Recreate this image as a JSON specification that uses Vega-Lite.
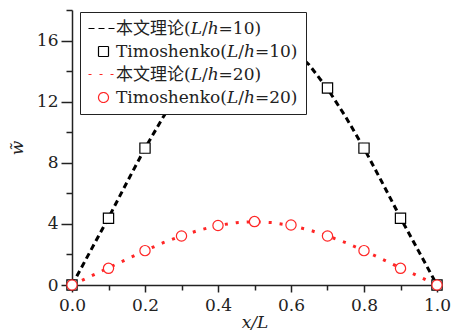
{
  "$schema": "https://vega.github.io/schema/vega-lite/v6.json",
  "width": 365,
  "height": 275,
  "autosize": "none",
  "padding": {"left": 72, "top": 10, "right": 20, "bottom": 49},
  "config": {
    "view": {"stroke": null},
    "font": "DejaVu Serif",
    "axis": {
      "grid": false,
      "labelFlush": false,
      "labelOverlap": false,
      "domainColor": "#222",
      "domainWidth": 1.5,
      "tickColor": "#222",
      "tickWidth": 1.5,
      "labelFont": "DejaVu Serif",
      "labelFontSize": 17,
      "labelColor": "#222",
      "titleFont": "DejaVu Serif",
      "titleFontSize": 17,
      "titleFontWeight": "normal",
      "titleFontStyle": "italic",
      "titleColor": "#222"
    }
  },
  "layer": [
    {
      "data": {
        "values": [
          {"series": "本文理论(𝐿/ℎ=10)", "x": 0, "w": 0},
          {"series": "本文理论(𝐿/ℎ=10)", "x": 0.05, "w": 2.2},
          {"series": "本文理论(𝐿/ℎ=10)", "x": 0.1, "w": 4.4},
          {"series": "本文理论(𝐿/ℎ=10)", "x": 0.15, "w": 6.7},
          {"series": "本文理论(𝐿/ℎ=10)", "x": 0.2, "w": 8.95},
          {"series": "本文理论(𝐿/ℎ=10)", "x": 0.25, "w": 11.0},
          {"series": "本文理论(𝐿/ℎ=10)", "x": 0.3, "w": 12.85},
          {"series": "本文理论(𝐿/ℎ=10)", "x": 0.35, "w": 14.4},
          {"series": "本文理论(𝐿/ℎ=10)", "x": 0.4, "w": 15.55},
          {"series": "本文理论(𝐿/ℎ=10)", "x": 0.45, "w": 16.3},
          {"series": "本文理论(𝐿/ℎ=10)", "x": 0.5, "w": 16.55},
          {"series": "本文理论(𝐿/ℎ=10)", "x": 0.55, "w": 16.3},
          {"series": "本文理论(𝐿/ℎ=10)", "x": 0.6, "w": 15.55},
          {"series": "本文理论(𝐿/ℎ=10)", "x": 0.65, "w": 14.4},
          {"series": "本文理论(𝐿/ℎ=10)", "x": 0.7, "w": 12.85},
          {"series": "本文理论(𝐿/ℎ=10)", "x": 0.75, "w": 11.0},
          {"series": "本文理论(𝐿/ℎ=10)", "x": 0.8, "w": 8.95},
          {"series": "本文理论(𝐿/ℎ=10)", "x": 0.85, "w": 6.7},
          {"series": "本文理论(𝐿/ℎ=10)", "x": 0.9, "w": 4.4},
          {"series": "本文理论(𝐿/ℎ=10)", "x": 0.95, "w": 2.2},
          {"series": "本文理论(𝐿/ℎ=10)", "x": 1.0, "w": 0},
          {"series": "本文理论(𝐿/ℎ=20)", "x": 0, "w": 0},
          {"series": "本文理论(𝐿/ℎ=20)", "x": 0.05, "w": 0.56},
          {"series": "本文理论(𝐿/ℎ=20)", "x": 0.1, "w": 1.12},
          {"series": "本文理论(𝐿/ℎ=20)", "x": 0.15, "w": 1.69},
          {"series": "本文理论(𝐿/ℎ=20)", "x": 0.2, "w": 2.25},
          {"series": "本文理论(𝐿/ℎ=20)", "x": 0.25, "w": 2.77},
          {"series": "本文理论(𝐿/ℎ=20)", "x": 0.3, "w": 3.22},
          {"series": "本文理论(𝐿/ℎ=20)", "x": 0.35, "w": 3.6},
          {"series": "本文理论(𝐿/ℎ=20)", "x": 0.4, "w": 3.9},
          {"series": "本文理论(𝐿/ℎ=20)", "x": 0.45, "w": 4.08},
          {"series": "本文理论(𝐿/ℎ=20)", "x": 0.5, "w": 4.15},
          {"series": "本文理论(𝐿/ℎ=20)", "x": 0.55, "w": 4.08},
          {"series": "本文理论(𝐿/ℎ=20)", "x": 0.6, "w": 3.9},
          {"series": "本文理论(𝐿/ℎ=20)", "x": 0.65, "w": 3.6},
          {"series": "本文理论(𝐿/ℎ=20)", "x": 0.7, "w": 3.22},
          {"series": "本文理论(𝐿/ℎ=20)", "x": 0.75, "w": 2.77},
          {"series": "本文理论(𝐿/ℎ=20)", "x": 0.8, "w": 2.25},
          {"series": "本文理论(𝐿/ℎ=20)", "x": 0.85, "w": 1.69},
          {"series": "本文理论(𝐿/ℎ=20)", "x": 0.9, "w": 1.12},
          {"series": "本文理论(𝐿/ℎ=20)", "x": 0.95, "w": 0.56},
          {"series": "本文理论(𝐿/ℎ=20)", "x": 1.0, "w": 0}
        ]
      },
      "mark": {"type": "line", "strokeWidth": 3, "strokeCap": "butt", "clip": false},
      "encoding": {
        "x": {
          "field": "x", "type": "quantitative",
          "scale": {"domain": [0, 1], "nice": false, "zero": false},
          "axis": {"orient": "bottom", "values": [0, 0.2, 0.4, 0.6, 0.8, 1.0], "format": ".1f", "tickSize": 7, "labelPadding": 5, "title": "x/L", "titlePadding": 1}
        },
        "y": {
          "field": "w", "type": "quantitative",
          "scale": {"domain": [0, 18], "nice": false},
          "axis": {"orient": "left", "values": [0, 4, 8, 12, 16], "format": "d", "tickSize": 11, "labelPadding": 3, "title": "w̃", "titleAngle": -90, "titlePadding": 10}
        },
        "color": {
          "field": "series", "type": "nominal",
          "scale": {
            "domain": ["本文理论(𝐿/ℎ=10)", "Timoshenko(𝐿/ℎ=10)", "本文理论(𝐿/ℎ=20)", "Timoshenko(𝐿/ℎ=20)"],
            "range": ["#000000", "#000000", "#ff2626", "#ff2626"]
          },
          "legend": {
            "title": null, "orient": "none", "legendX": 8, "legendY": 2,
            "fillColor": "white", "strokeColor": "#222", "padding": 8,
            "labelFont": "DejaVu Serif, Noto Sans CJK SC", "labelFontSize": 17, "labelColor": "#222",
            "labelLimit": 0, "rowPadding": 5, "labelOffset": 4, "symbolOffset": 7, "symbolSize": 100, "symbolStrokeWidth": 1.2,
            "encode": {"symbols": {"update": {"strokeWidth": {"value": 1.2}, "strokeDash": {"signal": "datum.index % 2 === 0 ? [2, 2] : [1, 0]"}}}}
          }
        },
        "strokeDash": {
          "field": "series", "type": "nominal",
          "scale": {
            "domain": ["本文理论(𝐿/ℎ=10)", "Timoshenko(𝐿/ℎ=10)", "本文理论(𝐿/ℎ=20)", "Timoshenko(𝐿/ℎ=20)"],
            "range": [[6, 4], [1, 0], [3, 8], [1, 0]]
          },
          "legend": {
            "title": null, "orient": "none", "legendX": 8, "legendY": 2,
            "fillColor": "white", "strokeColor": "#222", "padding": 8,
            "labelFont": "DejaVu Serif, Noto Sans CJK SC", "labelFontSize": 17, "labelColor": "#222",
            "labelLimit": 0, "rowPadding": 5, "labelOffset": 4, "symbolOffset": 7, "symbolSize": 100, "symbolStrokeWidth": 1.2,
            "encode": {"symbols": {"update": {"strokeWidth": {"value": 1.2}, "strokeDash": {"signal": "datum.index % 2 === 0 ? [2, 2] : [1, 0]"}}}}
          }
        }
      }
    },
    {
      "data": {
        "values": [
          {"series": "Timoshenko(𝐿/ℎ=10)", "x": 0, "w": 0},
          {"series": "Timoshenko(𝐿/ℎ=10)", "x": 0.1, "w": 4.37},
          {"series": "Timoshenko(𝐿/ℎ=10)", "x": 0.2, "w": 8.96},
          {"series": "Timoshenko(𝐿/ℎ=10)", "x": 0.3, "w": 12.9},
          {"series": "Timoshenko(𝐿/ℎ=10)", "x": 0.4, "w": 15.5},
          {"series": "Timoshenko(𝐿/ℎ=10)", "x": 0.5, "w": 16.5},
          {"series": "Timoshenko(𝐿/ℎ=10)", "x": 0.6, "w": 15.5},
          {"series": "Timoshenko(𝐿/ℎ=10)", "x": 0.7, "w": 12.9},
          {"series": "Timoshenko(𝐿/ℎ=10)", "x": 0.8, "w": 8.96},
          {"series": "Timoshenko(𝐿/ℎ=10)", "x": 0.9, "w": 4.37},
          {"series": "Timoshenko(𝐿/ℎ=10)", "x": 1.0, "w": 0},
          {"series": "Timoshenko(𝐿/ℎ=20)", "x": 0, "w": 0},
          {"series": "Timoshenko(𝐿/ℎ=20)", "x": 0.1, "w": 1.09},
          {"series": "Timoshenko(𝐿/ℎ=20)", "x": 0.2, "w": 2.25},
          {"series": "Timoshenko(𝐿/ℎ=20)", "x": 0.3, "w": 3.21},
          {"series": "Timoshenko(𝐿/ℎ=20)", "x": 0.4, "w": 3.89},
          {"series": "Timoshenko(𝐿/ℎ=20)", "x": 0.5, "w": 4.15},
          {"series": "Timoshenko(𝐿/ℎ=20)", "x": 0.6, "w": 3.93},
          {"series": "Timoshenko(𝐿/ℎ=20)", "x": 0.7, "w": 3.21},
          {"series": "Timoshenko(𝐿/ℎ=20)", "x": 0.8, "w": 2.25},
          {"series": "Timoshenko(𝐿/ℎ=20)", "x": 0.9, "w": 1.09},
          {"series": "Timoshenko(𝐿/ℎ=20)", "x": 1.0, "w": 0}
        ]
      },
      "mark": {"type": "point", "filled": false, "fill": "white", "fillOpacity": 1, "strokeWidth": 1.2, "opacity": 1, "size": 105, "clip": false},
      "encoding": {
        "x": {
          "field": "x", "type": "quantitative",
          "scale": {"domain": [0, 1], "nice": false, "zero": false},
          "axis": {"orient": "bottom", "values": [0.1, 0.3, 0.5, 0.7, 0.9], "labels": false, "domain": false, "title": null, "tickSize": 5}
        },
        "y": {
          "field": "w", "type": "quantitative",
          "scale": {"domain": [0, 18], "nice": false},
          "axis": {"orient": "left", "values": [2, 6, 10, 14, 18], "labels": false, "domain": false, "title": null, "tickSize": 6}
        },
        "color": {
          "field": "series", "type": "nominal",
          "scale": {
            "domain": ["本文理论(𝐿/ℎ=10)", "Timoshenko(𝐿/ℎ=10)", "本文理论(𝐿/ℎ=20)", "Timoshenko(𝐿/ℎ=20)"],
            "range": ["#000000", "#000000", "#ff2626", "#ff2626"]
          }
        },
        "shape": {
          "field": "series", "type": "nominal",
          "scale": {
            "domain": ["本文理论(𝐿/ℎ=10)", "Timoshenko(𝐿/ℎ=10)", "本文理论(𝐿/ℎ=20)", "Timoshenko(𝐿/ℎ=20)"],
            "range": ["M-3,0H3", "square", "M-3,0H3", "circle"]
          }
        }
      }
    }
  ],
  "resolve": {"axis": {"x": "independent", "y": "independent"}}
}
